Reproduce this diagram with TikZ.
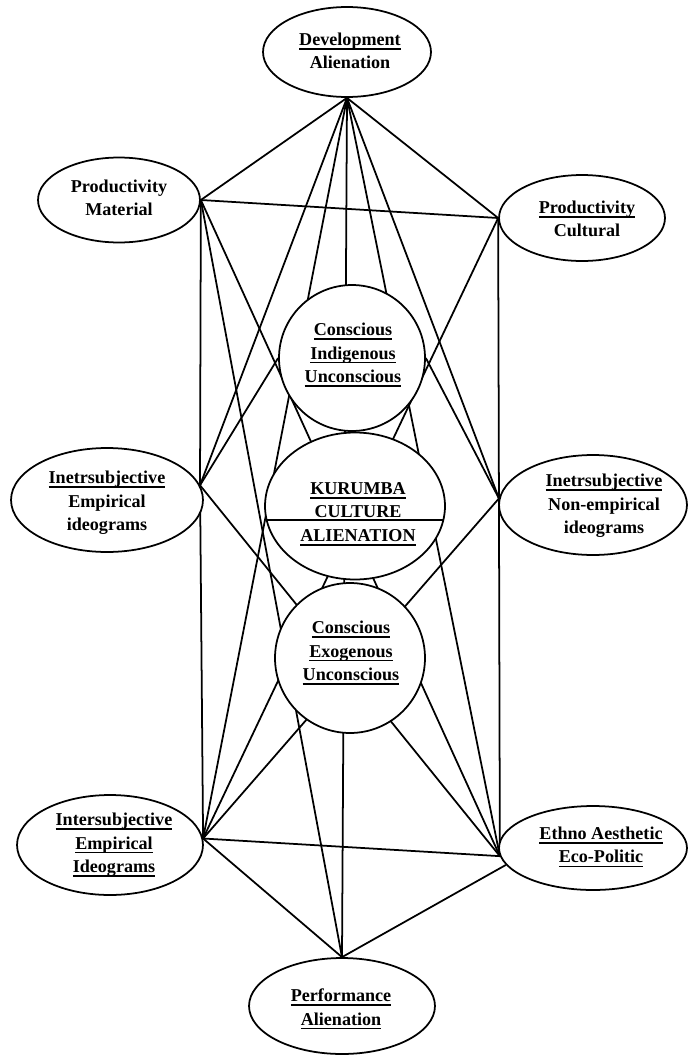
\documentclass[tikz,border=0pt]{standalone}
\usepackage{fontspec}
\setmainfont{Liberation Serif}
\usetikzlibrary{shapes.geometric}
\pgfdeclarelayer{bg}
\pgfsetlayers{bg,main}
% underlined word with a heavier rule
\newcommand\ulw[1]{\setbox0=\hbox{#1}\leavevmode\rlap{\rule[-2.4pt]{\wd0}{0.9pt}}\box0}
\begin{document}
\begin{tikzpicture}[x=0.02cm,y=-0.02cm,
  shp/.style={draw,line width=1pt,fill=white,inner sep=0pt},
  oval/.style={shp,ellipse},
  ring/.style={shp,circle},
  lbl/.style={align=center,font=\bfseries\fontsize{10.3}{13.4}\selectfont,inner sep=0pt},
  link/.style={line width=1pt}]
\useasboundingbox (0,0) rectangle (688,1055);

% outer ellipses
\node[oval,minimum width=3.36cm,minimum height=1.8cm]  (dev) at (347,52) {};
\node[oval,minimum width=3.24cm,minimum height=1.7cm]  (pm)  at (119,200) {};
\node[oval,minimum width=3.32cm,minimum height=1.72cm] (pc)  at (582,218) {};
\node[oval,minimum width=3.84cm,minimum height=2.08cm] (ie)  at (107,500) {};
\node[oval,minimum width=3.76cm,minimum height=2.0cm]  (ine) at (593,505) {};
\node[oval,minimum width=3.72cm,minimum height=2.0cm]  (ise) at (110,845) {};
\node[oval,minimum width=3.76cm,minimum height=1.68cm] (ea)  at (593,848) {};
\node[oval,minimum width=3.72cm,minimum height=1.92cm] (pa)  at (342,1006) {};

% central stack
\node[ring,minimum size=2.92cm] (c1) at (352,358) {};
\node[oval,minimum width=3.6cm,minimum height=2.94cm] (kur) at (355,506) {};
\node[ring,minimum size=3.0cm] (c3) at (350,658) {};
\draw[link] (kur.189) -- (kur.-9);

% labels
\node[lbl] (devt) at (350,51)  {\ulw{Development}\\Alienation};
\node[lbl] (pmt)  at (119,198) {Productivity\\Material};
\node[lbl] (pct)  at (587,219) {\ulw{Productivity}\\Cultural};
\node[lbl] (c1t)  at (353,355) {\ulw{Conscious}\\\ulw{Indigenous}\\\ulw{Unconscious}};
\node[lbl] (kurt) at (358,514) {\ulw{KURUMBA}\\CULTURE\\\ulw{ALIENATION}};
\node[lbl] (c3t)  at (351,653) {\ulw{Conscious}\\\ulw{Exogenous}\\\ulw{Unconscious}};
\node[lbl] (iet)  at (107,503) {\ulw{Inetrsubjective}\\Empirical\\ideograms};
\node[lbl] (inet) at (604,506) {\ulw{Inetrsubjective}\\Non-empirical\\ideograms};
\node[lbl] (iset) at (114,845) {\ulw{Intersubjective}\\\ulw{Empirical}\\\ulw{Ideograms}};
\node[lbl] (eat)  at (601,847) {\ulw{Ethno Aesthetic}\\\ulw{Eco-Politic}};
\node[lbl] (pat)  at (341,1009) {\ulw{Performance}\\\ulw{Alienation}};

% connectors, behind the shapes
\begin{pgfonlayer}{bg}
\draw[link] (dev.south) -- (pm.east);
\draw[link] (dev.south) -- (pc.west);
\draw[link] (dev.south) -- (ie.9);
\draw[link] (dev.south) -- (ine.176);
\draw[link] (dev.south) -- (ise.4);
\draw[link] (dev.south) -- (ea.185);
\draw[link] (dev.south) -- (pa.north);
\draw[link] (pm.east) -- (pc.west);
\draw[link] (pm.east) -- (ie.9) -- (ise.4);
\draw[link] (pm.east) -- (pa.north);
\draw[link] (pm.east) -- (ea.185);
\draw[link] (pc.west) -- (ine.176) -- (ea.185);
\draw[link] (pc.west) -- (ise.4);
\draw[link] (ie.9) -- (c1.west);
\draw[link] (ine.176) -- (c1.east);
\draw[link] (ie.9) -- (ea.185);
\draw[link] (ine.176) -- (ise.4);
\draw[link] (ise.4) -- (ea.185);
\draw[link] (ise.4) -- (pa.north);
\draw[link] (ea.191) -- (pa.north);
\end{pgfonlayer}
\end{tikzpicture}
\end{document}
